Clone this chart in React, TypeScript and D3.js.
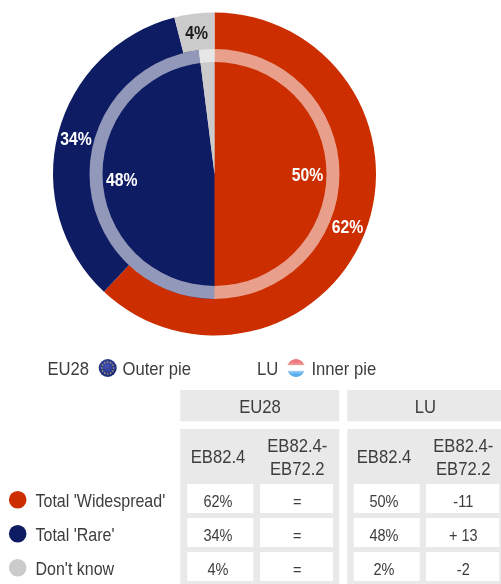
import * as d3 from 'd3';

const categories = ["Total 'Widespread'", "Total 'Rare'", "Don't know"];
const colors = ['#cc2e00', '#0f1c64', '#cbcbcb'];
const outerValues = [62, 34, 4]; // EU28
const innerValues = [50, 48, 2]; // LU
const groups = ['EU28', 'LU'];
const subHeads = [['EB82.4'], ['EB82.4-', 'EB72.2']];
const tableRows = [
  ['62%', '=', '50%', '-11'],
  ['34%', '=', '48%', '+ 13'],
  ['4%', '=', '2%', '-2'],
];

const W = 501;
const H = 584;
const cx = 214.5;
const cy = 174;
const textCol = '#3d3d3d';
const panel = '#e9e9e9';
const font = '"Liberation Sans", Arial, sans-serif';

const pie = d3.pie<number>().sort(null).value(d => d);
const outerArc = d3.arc<d3.PieArcDatum<number>>().innerRadius(0).outerRadius(161.5);
const innerArc = d3.arc<d3.PieArcDatum<number>>().innerRadius(0).outerRadius(125);
const ringArc = d3.arc()({ innerRadius: 112, outerRadius: 125, startAngle: 0, endAngle: Math.PI * 2 }) as string;
const outerLabelArc = d3.arc<d3.PieArcDatum<number>>().innerRadius(143).outerRadius(143);
const innerLabelArc = d3.arc<d3.PieArcDatum<number>>().innerRadius(93).outerRadius(93);

const outerPie = pie(outerValues);
const innerPie = pie(innerValues);

// table columns: white cell boxes and the centre of the text in them
const cellX = [187.3, 260, 353.7, 426];
const cellW = [66, 73, 66, 73.3];
const textX = [218, 297.3, 384, 463.3];
const rowY = d3.scalePoint<number>().domain([0, 1, 2]).range([484, 552]);
const cellH = 29;

const star = d3.symbol().type(d3.symbolStar).size(1.6)() as string;
const starAngles = d3.range(12).map(i => (i * Math.PI) / 6);

// the source type is tall and narrow, so squeeze it horizontally
function T({ x, y, size, sx = 0.9, anchor = 'start', fill = textCol, weight = 'normal', children }: any) {
  return (
    <text
      transform={`translate(${x},${y}) scale(${sx},1)`}
      fontSize={size}
      fontWeight={weight}
      textAnchor={anchor}
      fill={fill}
    >
      {children}
    </text>
  );
}

export default function App() {
  return (
    <svg
      width={W}
      height={H}
      viewBox={`0 0 ${W} ${H}`}
      style={{ position: 'absolute', left: 0, top: 0, background: '#fff', fontFamily: font }}
    >
      <defs>
        <filter id="soft" x="0" y="0" width="100%" height="100%">
          <feGaussianBlur stdDeviation="0.35" />
        </filter>
        <radialGradient id="euGrad" cx="45%" cy="40%" r="65%">
          <stop offset="0%" stopColor="#4452b4" />
          <stop offset="100%" stopColor="#18256f" />
        </radialGradient>
        <linearGradient id="luGrad" x1="0" y1="0" x2="0" y2="1">
          <stop offset="0%" stopColor="#e8696e" />
          <stop offset="30%" stopColor="#f29090" />
          <stop offset="37%" stopColor="#ffffff" />
          <stop offset="63%" stopColor="#ffffff" />
          <stop offset="70%" stopColor="#86c4f3" />
          <stop offset="100%" stopColor="#3f9fe6" />
        </linearGradient>
      </defs>

      <g filter="url(#soft)">
        <rect width={W} height={H} fill="#fff" />
        <g transform={`translate(${cx},${cy})`}>
          {outerPie.map((d, i) => (
            <path key={i} d={outerArc(d) as string} fill={colors[i]} />
          ))}
          {innerPie.map((d, i) => (
            <path key={i} d={innerArc(d) as string} fill={colors[i]} />
          ))}
          <path d={ringArc} fill="#fff" fillOpacity={0.55} />
          {outerPie.map((d, i) => {
            const [x, y] = outerLabelArc.centroid(d);
            return (
              <T key={i} x={x} y={y + 6.5} size={19} sx={0.83} anchor="middle" weight="bold" fill={i === 2 ? '#1a1a1a' : '#fff'}>
                {outerValues[i]}%
              </T>
            );
          })}
          {innerPie.slice(0, 2).map((d, i) => {
            const [x, y] = innerLabelArc.centroid(d);
            return (
              <T key={i} x={x} y={y + 6.5} size={19} sx={0.83} anchor="middle" weight="bold" fill="#fff">
                {innerValues[i]}%
              </T>
            );
          })}
        </g>

        {/* pie key */}
        <T x={47.5} y={374.7} size={18.5}>EU28</T>
        <circle cx={107.7} cy={368} r={9} fill="url(#euGrad)" />
        {starAngles.map((a, i) => (
          <path
            key={i}
            d={star}
            fill="#c9bd55"
            transform={`translate(${107.7 + 6 * Math.sin(a)},${368 - 6 * Math.cos(a)})`}
          />
        ))}
        <T x={122.5} y={374.7} size={18.5}>Outer pie</T>
        <T x={257} y={374.7} size={18.5}>LU</T>
        <circle cx={296} cy={368} r={9} fill="url(#luGrad)" />
        <T x={311.5} y={374.7} size={18.5}>Inner pie</T>

        {/* table panels */}
        {groups.map((g, i) => {
          const x = i === 0 ? 180.3 : 347.3;
          const w = i === 0 ? 159 : 153.7;
          return (
            <g key={g}>
              <rect x={x} y={390} width={w} height={31.3} fill={panel} />
              <rect x={x} y={429} width={w} height={155} fill={panel} />
              <T x={i === 0 ? 260 : 425.3} y={413.3} size={18.5} anchor="middle">{g}</T>
            </g>
          );
        })}

        {/* column headings */}
        {textX.map((x, c) => {
          const lines = subHeads[c % 2];
          return lines.map((line, j) => (
            <T key={`${c}-${j}`} x={x} y={lines.length === 1 ? 463 : 452 + j * 22.5} size={18.5} anchor="middle">
              {line}
            </T>
          ));
        })}

        {/* rows */}
        {categories.map((cat, r) => {
          const y = rowY(r) as number;
          return (
            <g key={cat}>
              <circle cx={17.7} cy={y + 15.7} r={8.8} fill={colors[r]} />
              <T x={35.5} y={y + 22.5} size={18} sx={0.89}>{cat}</T>
              {tableRows[r].map((v, c) => (
                <g key={c}>
                  <rect x={cellX[c]} y={y} width={cellW[c]} height={cellH} fill="#fff" />
                  <T x={textX[c]} y={y + 22.5} size={16.5} sx={0.88} anchor="middle">{v}</T>
                </g>
              ))}
            </g>
          );
        })}
      </g>
    </svg>
  );
}
